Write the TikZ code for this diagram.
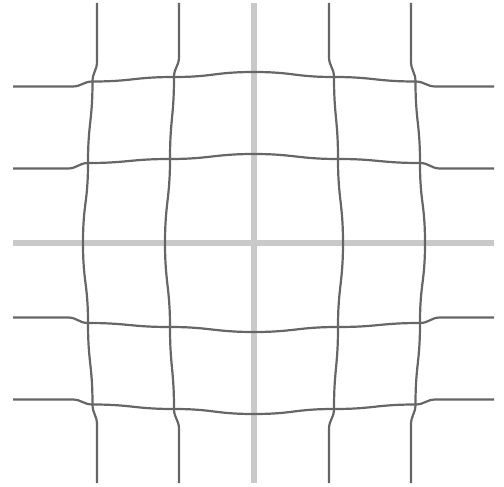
\documentclass[tikz,border=0pt]{standalone}
\begin{document}
\begin{tikzpicture}[x=1pt,y=-1pt,
  axisline/.style={line width=6.5pt,draw=black!21},
  gridline/.style={line width=2.2pt,draw=black!60,line cap=butt}]
\useasboundingbox (0,0) rectangle (504,487);
% centre axes
\draw[axisline] (13,243) -- (494,243);
\draw[axisline] (254,3) -- (254,483);
% horizontal lines
\foreach \s in {-1,1}{
  % |j| = 1
  \draw[gridline] (13,243+\s*74.5) -- (68,243+\s*74.5)
    .. controls +(9,0) and +(-9,0) .. (88,243+\s*80)
    .. controls +(40,0) and +(-40,0) .. (170,243+\s*84)
    .. controls +(40,0) and +(-40,0) .. (254,243+\s*89)
    .. controls +(40,0) and +(-40,0) .. (338,243+\s*84)
    .. controls +(40,0) and +(-40,0) .. (420,243+\s*80)
    .. controls +(9,0) and +(-9,0) .. (440,243+\s*74.5) -- (494,243+\s*74.5);
  % |j| = 2
  \draw[gridline] (13,243+\s*156.5) -- (72.5,243+\s*156.5)
    .. controls +(9,0) and +(-9,0) .. (92.5,243+\s*161.5)
    .. controls +(40,0) and +(-40,0) .. (174,243+\s*166)
    .. controls +(40,0) and +(-40,0) .. (254,243+\s*171)
    .. controls +(40,0) and +(-40,0) .. (334,243+\s*166)
    .. controls +(40,0) and +(-40,0) .. (415.5,243+\s*161.5)
    .. controls +(9,0) and +(-9,0) .. (435.5,243+\s*156.5) -- (494,243+\s*156.5);
}
% vertical lines
\foreach \s in {-1,1}{
  % |i| = 1
  \draw[gridline] (254+\s*75,3) -- (254+\s*75,57)
    .. controls +(0,9) and +(0,-9) .. (254+\s*80,77)
    .. controls +(0,40) and +(0,-40) .. (254+\s*84,159)
    .. controls +(0,40) and +(0,-40) .. (254+\s*89,243)
    .. controls +(0,40) and +(0,-40) .. (254+\s*84,327)
    .. controls +(0,40) and +(0,-40) .. (254+\s*80,409)
    .. controls +(0,9) and +(0,-9) .. (254+\s*75,429) -- (254+\s*75,483);
  % |i| = 2
  \draw[gridline] (254+\s*157,3) -- (254+\s*157,61.5)
    .. controls +(0,9) and +(0,-9) .. (254+\s*161.5,81.5)
    .. controls +(0,40) and +(0,-40) .. (254+\s*166,163)
    .. controls +(0,40) and +(0,-40) .. (254+\s*171,243)
    .. controls +(0,40) and +(0,-40) .. (254+\s*166,323)
    .. controls +(0,40) and +(0,-40) .. (254+\s*161.5,404.5)
    .. controls +(0,9) and +(0,-9) .. (254+\s*157,424.5) -- (254+\s*157,483);
}
\end{tikzpicture}
\end{document}
